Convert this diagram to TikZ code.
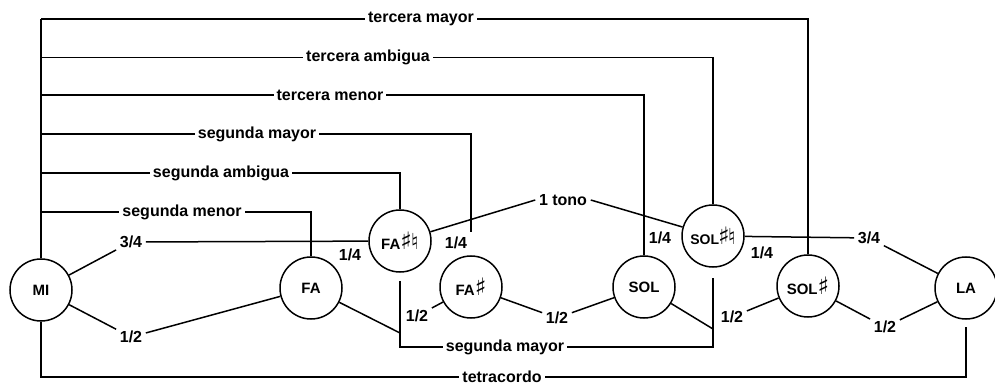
\documentclass[tikz,border=0pt]{standalone}
\usepackage{graphicx}
\usepackage{fontspec}
\setmainfont{Liberation Sans}
\newfontfamily\symf{DejaVu Sans}
\newcommand{\mysharp}{{\symf\fontsize{24}{24}\selectfont ♯}}
\newcommand{\mynat}{{\symf\fontsize{22}{22}\selectfont ♮}}
\begin{document}
\begin{tikzpicture}[x=1pt,y=-1pt,line width=1.5pt,
  note/.style={circle,draw,minimum size=62pt,inner sep=0pt,font=\fontsize{15}{15}\selectfont\bfseries},
  lab/.style={fill=white,inner xsep=3pt,inner ysep=1pt,font=\fontsize{16}{16}\selectfont\bfseries},
  num/.style={inner sep=3pt,font=\fontsize{16}{16}\selectfont\bfseries}]
\useasboundingbox (0,0) rectangle (995,387);
% notes
\node[note] (MI) at (41,290) {MI};
\node[note] (FA) at (311,288) {FA};
\node[note] (FAh) at (400,241) {FA\mysharp\hspace{-1pt}\mynat};
\node[note] (FAs) at (471,287) {FA\mysharp};
\node[note] (SOL) at (644,287) {SOL};
\node[note] (SOLh) at (713,236) {\fontsize{14}{14}\selectfont SOL\hspace{-1pt}\mysharp\hspace{-2pt}\mynat};
\node[note] (SOLs) at (808,286) {SOL\mysharp};
\node[note] (LA) at (966,288) {LA};
% bracket coordinates
\coordinate (b1) at (41,19);
\coordinate (b2) at (41,57.5);
\coordinate (b3) at (41,95);
\coordinate (b4) at (41,134);
\coordinate (b5) at (41,173);
\coordinate (b6) at (41,212);
\coordinate (e4) at (471,232);
\coordinate (bl) at (41,377);
\coordinate (br) at (966,377);
\coordinate (sl) at (400,347);
\coordinate (sr) at (713,347);
\coordinate (j1) at (400,333);
\coordinate (j2) at (713,329);
% brackets
\draw (MI.north) -- (b1);
\draw (b1) -| (SOLs.north);
\draw (b2) -| (SOLh.north);
\draw (b3) -| (SOL.north);
\draw (b4) -| (e4);
\draw (b5) -| (FAh.north);
\draw (b6) -| (FA.north);
\draw (MI.south) -- (bl) -- (br) -- ([yshift=-7pt]LA.south);
\draw ([yshift=-8pt]FAh.south) -- (sl) -- (sr) -- ([yshift=-10pt]SOLh.south);
% bracket labels
\node[lab] (L1) at (421,19) {tercera mayor};
\node[lab] (L2) at (368,57.5) {tercera ambigua};
\node[lab] (L3) at (330,95) {tercera menor};
\node[lab] (L4) at (257,134) {segunda mayor};
\node[lab] (L5) at (221,173) {segunda ambigua};
\node[lab] (L6) at (182,212) {segunda menor};
\node[lab] (L7) at (505,347) {segunda mayor};
\node[lab] (L8) at (502,377) {tetracordo};
% interval labels
\node[num] (m34) at (131,242) {3/4};
\node[num] (m12) at (131,337) {1/2};
\node[num] (q1) at (350,255) {1/4};
\node[num] (q2) at (456,243) {1/4};
\node[num] (t1) at (563,200) {1 tono};
\node[num] (q3) at (660,238) {1/4};
\node[num] (q4) at (762,253) {1/4};
\node[num] (s34) at (869,238) {3/4};
\node[num] (h1) at (417,316) {1/2};
\node[num] (h2) at (557,318) {1/2};
\node[num] (h3) at (732,317) {1/2};
\node[num] (h4) at (885,327) {1/2};
% interval connectors
\draw (MI) -- (m34);
\draw (m34) -- (FAh);
\draw (MI) -- (m12);
\draw (m12) -- (FA);
\draw (FA) -- (j1);
\draw (h1) -- (FAs);
\draw (FAh) -- (t1.west);
\draw (t1.east) -- (SOLh);
\draw (FAs) -- (h2);
\draw (h2) -- (SOL);
\draw (SOL) -- (j2);
\draw (h3) -- (SOLs);
\draw (SOLh) -- (s34);
\draw (s34) -- (LA);
\draw (SOLs) -- (h4);
\draw (h4) -- (LA);
\end{tikzpicture}
\end{document}
